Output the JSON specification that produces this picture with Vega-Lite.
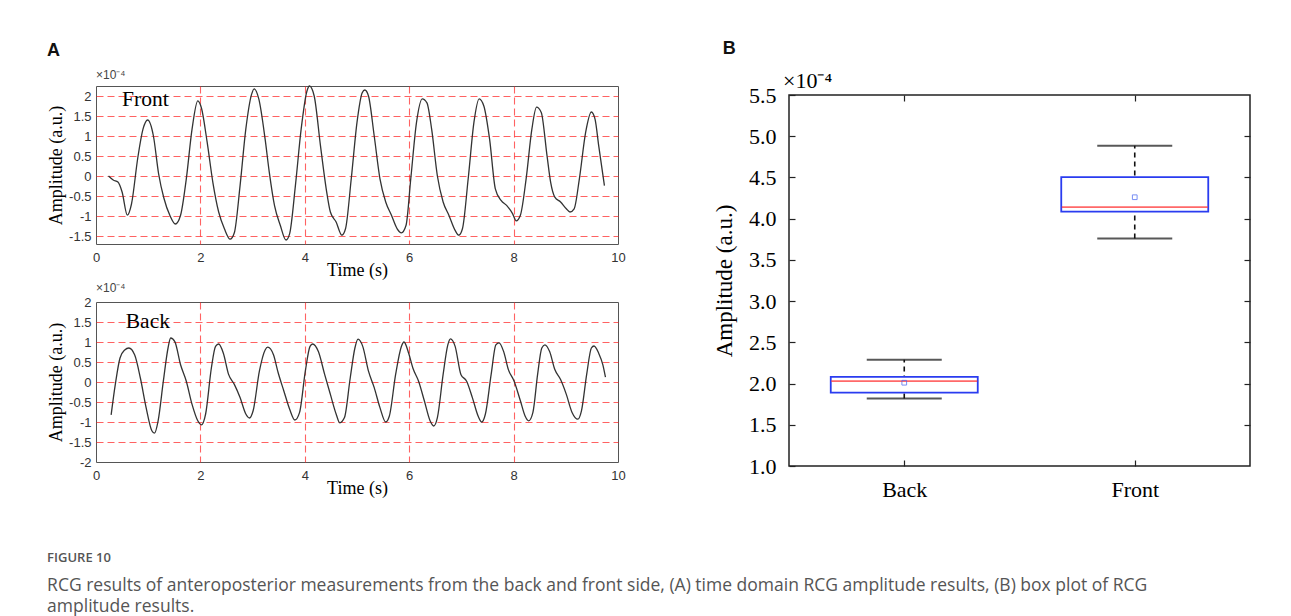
{
  "$schema": "https://vega.github.io/schema/vega-lite/v6.json",
  "background": "white",
  "padding": {"left": 47, "top": 40, "right": 0, "bottom": 0},
  "datasets": {
    "front": [
      {"t":0.24,"v":0.0},{"t":0.33,"v":-0.1},{"t":0.42,"v":-0.15},{"t":0.5,"v":-0.4},{"t":0.6,"v":-0.98},{"t":0.68,"v":-0.7},{"t":0.8,"v":0.45},{"t":0.9,"v":1.17},{"t":0.99,"v":1.4},{"t":1.1,"v":1.0},{"t":1.2,"v":0.05},{"t":1.3,"v":-0.55},{"t":1.42,"v":-1.0},{"t":1.52,"v":-1.2},{"t":1.62,"v":-0.98},{"t":1.73,"v":-0.07},{"t":1.84,"v":1.17},{"t":1.95,"v":1.88},{"t":2.02,"v":1.7},{"t":2.13,"v":0.84},{"t":2.24,"v":-0.17},{"t":2.35,"v":-0.9},{"t":2.46,"v":-1.32},{"t":2.57,"v":-1.58},{"t":2.65,"v":-1.42},{"t":2.76,"v":-0.24},{"t":2.87,"v":1.17},{"t":2.98,"v":2.04},{"t":3.03,"v":2.18},{"t":3.12,"v":1.92},{"t":3.24,"v":0.92},{"t":3.32,"v":0.09},{"t":3.42,"v":-0.74},{"t":3.53,"v":-1.23},{"t":3.64,"v":-1.6},{"t":3.71,"v":-1.44},{"t":3.82,"v":-0.24},{"t":3.93,"v":1.17},{"t":4.04,"v":2.12},{"t":4.09,"v":2.25},{"t":4.18,"v":2.0},{"t":4.3,"v":0.76},{"t":4.41,"v":-0.32},{"t":4.49,"v":-0.9},{"t":4.6,"v":-1.15},{"t":4.71,"v":-1.48},{"t":4.78,"v":-1.32},{"t":4.89,"v":-0.07},{"t":5.0,"v":1.34},{"t":5.1,"v":2.08},{"t":5.15,"v":2.15},{"t":5.22,"v":2.0},{"t":5.33,"v":1.0},{"t":5.44,"v":-0.07},{"t":5.55,"v":-0.65},{"t":5.66,"v":-0.98},{"t":5.77,"v":-1.32},{"t":5.85,"v":-1.42},{"t":5.94,"v":-1.23},{"t":6.03,"v":-0.07},{"t":6.14,"v":1.34},{"t":6.25,"v":1.93},{"t":6.34,"v":1.83},{"t":6.43,"v":1.17},{"t":6.54,"v":0.0},{"t":6.65,"v":-0.65},{"t":6.76,"v":-0.98},{"t":6.88,"v":-1.36},{"t":6.95,"v":-1.48},{"t":7.02,"v":-1.32},{"t":7.13,"v":-0.07},{"t":7.24,"v":1.34},{"t":7.34,"v":1.93},{"t":7.43,"v":1.75},{"t":7.54,"v":0.92},{"t":7.65,"v":-0.32},{"t":7.76,"v":-0.61},{"t":7.87,"v":-0.74},{"t":7.98,"v":-0.94},{"t":8.05,"v":-1.12},{"t":8.13,"v":-0.98},{"t":8.24,"v":-0.07},{"t":8.35,"v":1.17},{"t":8.44,"v":1.72},{"t":8.53,"v":1.59},{"t":8.64,"v":0.51},{"t":8.71,"v":-0.16},{"t":8.79,"v":-0.53},{"t":8.9,"v":-0.65},{"t":9.01,"v":-0.82},{"t":9.08,"v":-0.9},{"t":9.16,"v":-0.82},{"t":9.26,"v":-0.07},{"t":9.38,"v":1.09},{"t":9.49,"v":1.6},{"t":9.56,"v":1.42},{"t":9.63,"v":0.76},{"t":9.74,"v":-0.24}
    ],
    "back": [
      {"t":0.29,"v":-0.82},{"t":0.37,"v":-0.06},{"t":0.46,"v":0.6},{"t":0.55,"v":0.8},{"t":0.63,"v":0.85},{"t":0.74,"v":0.68},{"t":0.85,"v":0.1},{"t":0.96,"v":-0.64},{"t":1.07,"v":-1.22},{"t":1.12,"v":-1.28},{"t":1.19,"v":-0.97},{"t":1.29,"v":0.02},{"t":1.38,"v":0.85},{"t":1.43,"v":1.1},{"t":1.51,"v":1.01},{"t":1.62,"v":0.43},{"t":1.73,"v":0.02},{"t":1.84,"v":-0.56},{"t":1.95,"v":-0.97},{"t":2.02,"v":-1.07},{"t":2.1,"v":-0.8},{"t":2.21,"v":0.35},{"t":2.29,"v":0.89},{"t":2.35,"v":0.95},{"t":2.44,"v":0.72},{"t":2.54,"v":0.19},{"t":2.65,"v":-0.06},{"t":2.76,"v":-0.39},{"t":2.87,"v":-0.8},{"t":2.94,"v":-0.9},{"t":3.01,"v":-0.72},{"t":3.13,"v":0.27},{"t":3.24,"v":0.8},{"t":3.29,"v":0.87},{"t":3.4,"v":0.68},{"t":3.49,"v":0.23},{"t":3.6,"v":-0.23},{"t":3.71,"v":-0.68},{"t":3.81,"v":-0.95},{"t":3.9,"v":-0.76},{"t":4.01,"v":0.27},{"t":4.1,"v":0.89},{"t":4.15,"v":0.95},{"t":4.26,"v":0.76},{"t":4.38,"v":0.19},{"t":4.49,"v":-0.31},{"t":4.6,"v":-0.8},{"t":4.67,"v":-1.02},{"t":4.76,"v":-0.89},{"t":4.87,"v":0.1},{"t":4.96,"v":0.85},{"t":5.02,"v":1.07},{"t":5.11,"v":0.89},{"t":5.22,"v":0.27},{"t":5.33,"v":-0.14},{"t":5.44,"v":-0.64},{"t":5.55,"v":-1.0},{"t":5.62,"v":-0.85},{"t":5.74,"v":0.19},{"t":5.85,"v":0.89},{"t":5.9,"v":1.0},{"t":5.99,"v":0.72},{"t":6.07,"v":0.35},{"t":6.18,"v":0.02},{"t":6.29,"v":-0.47},{"t":6.4,"v":-0.97},{"t":6.47,"v":-1.1},{"t":6.54,"v":-0.89},{"t":6.65,"v":0.19},{"t":6.74,"v":0.93},{"t":6.79,"v":1.08},{"t":6.88,"v":0.89},{"t":6.99,"v":0.19},{"t":7.1,"v":0.02},{"t":7.21,"v":-0.39},{"t":7.32,"v":-0.85},{"t":7.39,"v":-1.0},{"t":7.46,"v":-0.8},{"t":7.57,"v":0.19},{"t":7.66,"v":0.93},{"t":7.72,"v":0.98},{"t":7.81,"v":0.76},{"t":7.9,"v":0.31},{"t":8.01,"v":0.02},{"t":8.13,"v":-0.47},{"t":8.22,"v":-0.85},{"t":8.29,"v":-0.97},{"t":8.37,"v":-0.76},{"t":8.46,"v":0.19},{"t":8.54,"v":0.85},{"t":8.6,"v":0.93},{"t":8.69,"v":0.76},{"t":8.79,"v":0.31},{"t":8.9,"v":0.06},{"t":9.01,"v":-0.31},{"t":9.12,"v":-0.76},{"t":9.23,"v":-0.93},{"t":9.3,"v":-0.72},{"t":9.4,"v":0.19},{"t":9.49,"v":0.85},{"t":9.54,"v":0.9},{"t":9.63,"v":0.72},{"t":9.71,"v":0.43},{"t":9.76,"v":0.12}
    ],
    "box": [
      {"side":"Back","lower":1.82,"q1":1.89,"median":2.03,"q3":2.08,"upper":2.29,"mean":2.01},
      {"side":"Front","lower":3.76,"q1":4.085,"median":4.14,"q3":4.505,"upper":4.885,"mean":4.26}
    ]
  },
  "title": {
    "text": "FIGURE 10",
    "subtitle": ["RCG results of anteroposterior measurements from the back and front side, (A) time domain RCG amplitude results, (B) box plot of RCG", "amplitude results."],
    "orient": "bottom", "anchor": "start", "frame": "bounds", "offset": 51,
    "font": "Open Sans", "fontSize": 13, "fontWeight": 600, "color": "#555",
    "subtitleFont": "Open Sans", "subtitleFontSize": 17.5, "subtitleColor": "#555", "subtitleLineHeight": 21.5, "subtitlePadding": 12
  },
  "spacing": 86,
  "hconcat": [
    {
      "title": {"text": "A", "anchor": "start", "frame": "bounds", "font": "Liberation Sans", "fontSize": 18, "fontWeight": "bold", "color": "#111", "offset": 9},
      "spacing": 1,
      "vconcat": [
        {
          "width": 522, "height": 158,
          "title": {"text": "×10⁻⁴", "anchor": "start", "frame": "group", "font": "Liberation Sans", "fontSize": 12, "fontWeight": "normal", "color": "#444", "offset": 1},
          "view": {"stroke": "#555", "strokeWidth": 1},
          "layer": [
            {
              "data": {"name": "front"},
              "mark": {"type": "line", "color": "#333", "strokeWidth": 1.3, "interpolate": "monotone"},
              "encoding": {
                "x": {"field": "t", "type": "quantitative", "scale": {"domain": [0, 10], "nice": false},
                  "axis": {"values": [0,2,4,6,8,10], "title": "Time (s)", "titleFont": "Liberation Serif", "titleFontSize": 18, "titleFontWeight": "normal", "titleColor": "#000", "titlePadding": -3,
                    "labelFont": "Liberation Sans", "labelFontSize": 13, "labelColor": "#333", "labelPadding": 7, "labelOverlap": false, "ticks": false, "domain": false, "labelFlush": false, "labelExpr": "datum.value + ''",
                    "grid": true, "gridColor": "#ff2020", "gridOpacity": {"condition": {"test": "datum.value == 0 || datum.value == 10", "value": 0}, "value": 0.7}, "gridDash": [7, 4], "gridWidth": 1.1}},
                "y": {"field": "v", "type": "quantitative", "scale": {"domain": [-1.7, 2.25], "nice": false, "zero": false},
                  "axis": {"values": [-1.5,-1,-0.5,0,0.5,1,1.5,2], "title": "Amplitude (a.u.)", "titleFont": "Liberation Serif", "titleFontSize": 18, "titleFontWeight": "normal", "titleColor": "#000", "titlePadding": 3,
                    "labelFont": "Liberation Sans", "labelFontSize": 13, "labelColor": "#333", "labelPadding": 5, "labelOverlap": false, "ticks": false, "domain": false, "labelExpr": "datum.value + ''",
                    "grid": true, "gridColor": "#ff2020", "gridOpacity": 0.7, "gridDash": [7, 4], "gridWidth": 1.1}}
              }
            },
            {
              "data": {"values": [{"label": "Front"}]},
              "mark": {"type": "text", "font": "Liberation Serif", "fontSize": 21.5, "align": "left", "baseline": "middle", "color": "#000"},
              "encoding": {
                "x": {"datum": 0.5, "type": "quantitative",
                  "axis": {"values": [0,2,4,6,8,10], "title": "Time (s)", "titleFont": "Liberation Serif", "titleFontSize": 18, "titleFontWeight": "normal", "titleColor": "#000", "titlePadding": -3,
                    "labelFont": "Liberation Sans", "labelFontSize": 13, "labelColor": "#333", "labelPadding": 7, "labelOverlap": false, "ticks": false, "domain": false, "labelFlush": false, "labelExpr": "datum.value + ''",
                    "grid": true, "gridColor": "#ff2020", "gridOpacity": {"condition": {"test": "datum.value == 0 || datum.value == 10", "value": 0}, "value": 0.7}, "gridDash": [7, 4], "gridWidth": 1.1}},
                "y": {"datum": 1.9, "type": "quantitative",
                  "axis": {"values": [-1.5,-1,-0.5,0,0.5,1,1.5,2], "title": "Amplitude (a.u.)", "titleFont": "Liberation Serif", "titleFontSize": 18, "titleFontWeight": "normal", "titleColor": "#000", "titlePadding": 3,
                    "labelFont": "Liberation Sans", "labelFontSize": 13, "labelColor": "#333", "labelPadding": 5, "labelOverlap": false, "ticks": false, "domain": false, "labelExpr": "datum.value + ''",
                    "grid": true, "gridColor": "#ff2020", "gridOpacity": 0.7, "gridDash": [7, 4], "gridWidth": 1.1}},
                "text": {"field": "label"}
              }
            }
          ]
        },
        {
          "width": 522, "height": 160,
          "title": {"text": "×10⁻⁴", "anchor": "start", "frame": "group", "font": "Liberation Sans", "fontSize": 12, "fontWeight": "normal", "color": "#444", "offset": 1},
          "view": {"stroke": "#555", "strokeWidth": 1},
          "layer": [
            {
              "data": {"name": "back"},
              "mark": {"type": "line", "color": "#333", "strokeWidth": 1.3, "interpolate": "monotone"},
              "encoding": {
                "x": {"field": "t", "type": "quantitative", "scale": {"domain": [0, 10], "nice": false},
                  "axis": {"values": [0,2,4,6,8,10], "title": "Time (s)", "titleFont": "Liberation Serif", "titleFontSize": 18, "titleFontWeight": "normal", "titleColor": "#000", "titlePadding": -3,
                    "labelFont": "Liberation Sans", "labelFontSize": 13, "labelColor": "#333", "labelPadding": 7, "labelOverlap": false, "ticks": false, "domain": false, "labelFlush": false, "labelExpr": "datum.value + ''",
                    "grid": true, "gridColor": "#ff2020", "gridOpacity": {"condition": {"test": "datum.value == 0 || datum.value == 10", "value": 0}, "value": 0.7}, "gridDash": [7, 4], "gridWidth": 1.1}},
                "y": {"field": "v", "type": "quantitative", "scale": {"domain": [-2, 2], "nice": false, "zero": false},
                  "axis": {"values": [-2,-1.5,-1,-0.5,0,0.5,1,1.5,2], "title": "Amplitude (a.u.)", "titleFont": "Liberation Serif", "titleFontSize": 18, "titleFontWeight": "normal", "titleColor": "#000", "titlePadding": 3,
                    "labelFont": "Liberation Sans", "labelFontSize": 13, "labelColor": "#333", "labelPadding": 5, "labelOverlap": false, "ticks": false, "domain": false, "labelExpr": "datum.value + ''",
                    "grid": true, "gridColor": "#ff2020", "gridOpacity": {"condition": {"test": "datum.value == -2 || datum.value == 2", "value": 0}, "value": 0.7}, "gridDash": [7, 4], "gridWidth": 1.1}}
              }
            },
            {
              "data": {"values": [{"label": "Back"}]},
              "mark": {"type": "text", "font": "Liberation Serif", "fontSize": 21.5, "align": "left", "baseline": "middle", "color": "#000"},
              "encoding": {
                "x": {"datum": 0.57, "type": "quantitative",
                  "axis": {"values": [0,2,4,6,8,10], "title": "Time (s)", "titleFont": "Liberation Serif", "titleFontSize": 18, "titleFontWeight": "normal", "titleColor": "#000", "titlePadding": -3,
                    "labelFont": "Liberation Sans", "labelFontSize": 13, "labelColor": "#333", "labelPadding": 7, "labelOverlap": false, "ticks": false, "domain": false, "labelFlush": false, "labelExpr": "datum.value + ''",
                    "grid": true, "gridColor": "#ff2020", "gridOpacity": {"condition": {"test": "datum.value == 0 || datum.value == 10", "value": 0}, "value": 0.7}, "gridDash": [7, 4], "gridWidth": 1.1}},
                "y": {"datum": 1.5, "type": "quantitative",
                  "axis": {"values": [-2,-1.5,-1,-0.5,0,0.5,1,1.5,2], "title": "Amplitude (a.u.)", "titleFont": "Liberation Serif", "titleFontSize": 18, "titleFontWeight": "normal", "titleColor": "#000", "titlePadding": 3,
                    "labelFont": "Liberation Sans", "labelFontSize": 13, "labelColor": "#333", "labelPadding": 5, "labelOverlap": false, "ticks": false, "domain": false, "labelExpr": "datum.value + ''",
                    "grid": true, "gridColor": "#ff2020", "gridOpacity": {"condition": {"test": "datum.value == -2 || datum.value == 2", "value": 0}, "value": 0.7}, "gridDash": [7, 4], "gridWidth": 1.1}},
                "text": {"field": "label"}
              }
            }
          ]
        }
      ]
    },
    {
      "title": {"text": "B", "anchor": "start", "frame": "bounds", "font": "Liberation Sans", "fontSize": 18, "fontWeight": "bold", "color": "#111", "offset": 11, "dx": 10},
      "bounds": "flush",
      "spacing": 8,
      "vconcat": [
        {
          "width": 461, "height": 1,
          "view": {"stroke": null},
          "data": {"values": []},
          "mark": {"type": "point", "opacity": 0},
          "encoding": {}
        },
        {
          "width": 461, "height": 371,
          "title": {"text": "×10⁻⁴", "anchor": "start", "frame": "group", "font": "Liberation Serif", "fontSize": 22, "fontWeight": "normal", "color": "#000", "offset": -9, "dx": -6},
          "view": {"stroke": "#222", "strokeWidth": 1.5},
          "data": {"name": "box"},
          "resolve": {"axis": {"x": "independent", "y": "independent"}},
          "layer": [
            {
              "mark": {"type": "rule", "color": "#111", "strokeWidth": 1.6, "strokeDash": [5, 4]},
              "encoding": {
                "x": {"field": "side", "type": "nominal", "scale": {"type": "point", "padding": 0.5, "domain": ["Back", "Front"]},
                  "axis": {"orient": "bottom", "title": null, "labelAngle": 0, "labelFont": "Liberation Serif", "labelFontSize": 22, "labelColor": "#000", "labelPadding": 19, "tickSize": -6, "tickColor": "#222", "tickWidth": 1.2, "domain": false, "grid": false}},
                "y": {"field": "lower", "type": "quantitative", "scale": {"domain": [1, 5.5], "nice": false, "zero": false},
                  "axis": {"orient": "left", "values": [1,1.5,2,2.5,3,3.5,4,4.5,5,5.5], "format": ".1f", "title": "Amplitude (a.u.)", "titleFont": "Liberation Serif", "titleFontSize": 23, "titleFontWeight": "normal", "titleColor": "#000", "titlePadding": 12,
                    "labelFont": "Liberation Serif", "labelFontSize": 22, "labelColor": "#000", "labelPadding": 19, "labelOverlap": false, "tickSize": -6, "tickColor": "#222", "tickWidth": 1.2, "domain": false, "grid": false}},
                "y2": {"field": "upper"}
              }
            },
            {
              "mark": {"type": "tick", "color": "#111", "size": 75, "thickness": 2},
              "encoding": {
                "x": {"field": "side", "type": "nominal", "axis": {"orient": "top", "title": null, "labels": false, "tickSize": -6, "tickColor": "#222", "tickWidth": 1.2, "domain": false, "grid": false}},
                "y": {"field": "lower", "type": "quantitative", "axis": {"orient": "right", "values": [1.5,2,2.5,3,3.5,4,4.5,5], "title": null, "labels": false, "tickSize": -6, "tickColor": "#222", "tickWidth": 1.2, "domain": false, "grid": false}}
              }
            },
            {
              "mark": {"type": "tick", "color": "#111", "size": 75, "thickness": 2},
              "encoding": {
                "x": {"field": "side", "type": "nominal", "axis": null},
                "y": {"field": "upper", "type": "quantitative", "axis": null}
              }
            },
            {
              "mark": {"type": "bar", "width": 147, "fill": "white", "stroke": "#2a3cf0", "strokeWidth": 1.8},
              "encoding": {
                "x": {"field": "side", "type": "nominal", "axis": null},
                "y": {"field": "q1", "type": "quantitative", "axis": null},
                "y2": {"field": "q3"}
              }
            },
            {
              "mark": {"type": "tick", "color": "#ff2a2a", "size": 146, "thickness": 1.6},
              "encoding": {
                "x": {"field": "side", "type": "nominal", "axis": null},
                "y": {"field": "median", "type": "quantitative", "axis": null}
              }
            },
            {
              "mark": {"type": "point", "shape": "square", "size": 22, "filled": false, "color": "#4060f0", "strokeWidth": 1},
              "encoding": {
                "x": {"field": "side", "type": "nominal", "axis": null},
                "y": {"field": "mean", "type": "quantitative", "axis": null}
              }
            }
          ]
        }
      ]
    }
  ]
}
